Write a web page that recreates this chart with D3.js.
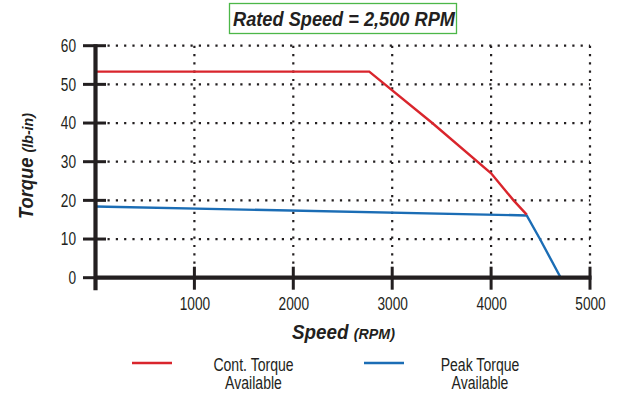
<!DOCTYPE html>
<html>
<head>
<meta charset="utf-8">
<script src="https://cdn.jsdelivr.net/npm/d3@7"></script>
<style>
  body { margin: 0; background: #fff; }
  svg { display: block; }
  text { font-family: "Liberation Sans", Arial, sans-serif; fill: #231f20; }
</style>
</head>
<body>
<svg id="chart" width="617" height="396"></svg>
<script>
// ---- data ----
const xTicks = [1000, 2000, 3000, 4000, 5000];
const yTicks = [0, 10, 20, 30, 40, 50, 60];
const contSpeed  = [0, 2768, 3405, 4000, 4227, 4360];
const contTorque = [53.3, 53.3, 40.0, 27.0, 20.0, 16.3];
const peakSpeed  = [0, 4360, 4494, 4704];
const peakTorque = [18.4, 16.1, 10.0, 0];
const titleText = "Rated Speed = 2,500 RPM";
const legendLabels = [["Cont. Torque", "Available"], ["Peak Torque", "Available"]];
const seriesColors = ["#d9252c", "#1b6db5"];

// ---- drawing ----
const svg = d3.select("#chart");
const x = d3.scaleLinear().domain([0, 5000]).range([95.5, 590]);
const y = d3.scaleLinear().domain([0, 60]).range([277.7, 45.7]);
const ink = "#231f20";
const SX = 0.74; // horizontal condensing of the sans face

// grid (dotted)
svg.append("g").selectAll("line").data(yTicks.filter(d => d > 0)).join("line")
  .attr("x1", x(0) + 10).attr("x2", x(5000))
  .attr("y1", d => y(d)).attr("y2", d => y(d))
  .attr("stroke", ink).attr("stroke-width", 2.2)
  .attr("stroke-dasharray", "2.2 6.1").attr("stroke-dashoffset", -2);
svg.append("g").selectAll("line").data(xTicks).join("line")
  .attr("x1", d => x(d)).attr("x2", d => x(d))
  .attr("y1", y(60)).attr("y2", y(0) - 12)
  .attr("stroke", ink).attr("stroke-width", 2.2)
  .attr("stroke-dasharray", "2.2 6.1");

// series
const line = d3.line().x(d => x(d[0])).y(d => y(d[1]));
svg.append("path").datum(peakSpeed.map((s, i) => [s, peakTorque[i]]))
  .attr("d", line).attr("fill", "none").attr("stroke", seriesColors[1]).attr("stroke-width", 2.4);
svg.append("path").datum(contSpeed.map((s, i) => [s, contTorque[i]]))
  .attr("d", line).attr("fill", "none").attr("stroke", seriesColors[0]).attr("stroke-width", 2.4);

// axes lines
svg.append("line").attr("x1", x(0)).attr("x2", x(0)).attr("y1", y(60) - 1.5).attr("y2", y(0) + 12.5)
  .attr("stroke", ink).attr("stroke-width", 4.2);
svg.append("line").attr("x1", x(0)).attr("x2", x(5000) + 1.5).attr("y1", y(0)).attr("y2", y(0))
  .attr("stroke", ink).attr("stroke-width", 4.2);
// tick marks crossing the axes
svg.append("g").selectAll("line").data(yTicks).join("line")
  .attr("x1", x(0) - 12.5).attr("x2", d => d === 0 ? x(0) : x(0) + 10.5)
  .attr("y1", d => y(d)).attr("y2", d => y(d))
  .attr("stroke", ink).attr("stroke-width", 3);
svg.append("g").selectAll("line").data(xTicks).join("line")
  .attr("x1", d => x(d)).attr("x2", d => x(d))
  .attr("y1", y(0) - 11).attr("y2", y(0) + 12)
  .attr("stroke", ink).attr("stroke-width", 3);

// tick labels via d3 axes
const yAxis = svg.append("g").attr("transform", `translate(${x(0)},0)`)
  .call(d3.axisLeft(y).tickValues(yTicks).tickFormat(d3.format("d")).tickSize(0).tickPadding(19));
const xAxis = svg.append("g").attr("transform", `translate(0,${y(0)})`)
  .call(d3.axisBottom(x).tickValues(xTicks).tickFormat(d3.format("d")).tickSize(0).tickPadding(19));
[yAxis, xAxis].forEach(g => {
  g.select(".domain").remove();
  g.attr("font-family", null).attr("font-size", null);
  g.selectAll("text").attr("font-size", 18.5).attr("fill", ink).attr("transform", `scale(${SX},1)`);
});
yAxis.selectAll("text").attr("x", -19.5 / SX);

// helper: text fitted to a target width, centred at (cx, cy)
function fitted(parent, cx, cy, target, rotate) {
  const g = parent.append("g");
  const t = g.append("text").attr("text-anchor", "middle");
  return {
    t,
    fit() {
      const w = t.node().getComputedTextLength();
      const s = target / w;
      g.attr("transform", `translate(${cx},${cy})` + (rotate ? ` rotate(${rotate})` : "") + ` scale(${s},1)`);
    }
  };
}

// title box
svg.append("rect").attr("x", 229.5).attr("y", 3.5).attr("width", 227).attr("height", 30)
  .attr("fill", "#fff").attr("stroke", "#4cb748").attr("stroke-width", 1.3);
const title = fitted(svg, 344, 25.5, 222);
title.t.attr("font-size", 20.5).attr("font-weight", "bold").attr("font-style", "italic").text(titleText);
title.fit();

// y axis title
const yt = fitted(svg, 32.5, 166, 106, -90);
yt.t.attr("font-weight", "bold").attr("font-style", "italic");
yt.t.append("tspan").attr("font-size", 20).text("Torque ");
yt.t.append("tspan").attr("font-size", 15.5).text("(lb-in)");
yt.fit();

// x axis title
const xt = fitted(svg, 343.5, 339, 103);
xt.t.attr("font-weight", "bold").attr("font-style", "italic");
xt.t.append("tspan").attr("font-size", 20.5).text("Speed ");
xt.t.append("tspan").attr("font-size", 15.5).text("(RPM)");
xt.fit();

// legend
const legX = [[132, 172, 253.5], [364, 404, 480]];
legendLabels.forEach((lab, i) => {
  svg.append("line").attr("x1", legX[i][0]).attr("x2", legX[i][1]).attr("y1", 363).attr("y2", 363)
    .attr("stroke", seriesColors[i]).attr("stroke-width", 2.6);
  lab.forEach((txt, j) => {
    svg.append("text").attr("text-anchor", "middle").attr("font-size", 18.5)
      .attr("transform", `translate(${legX[i][2]},${370.5 + j * 18.5}) scale(0.76,1)`)
      .text(txt);
  });
});
</script>
</body>
</html>
